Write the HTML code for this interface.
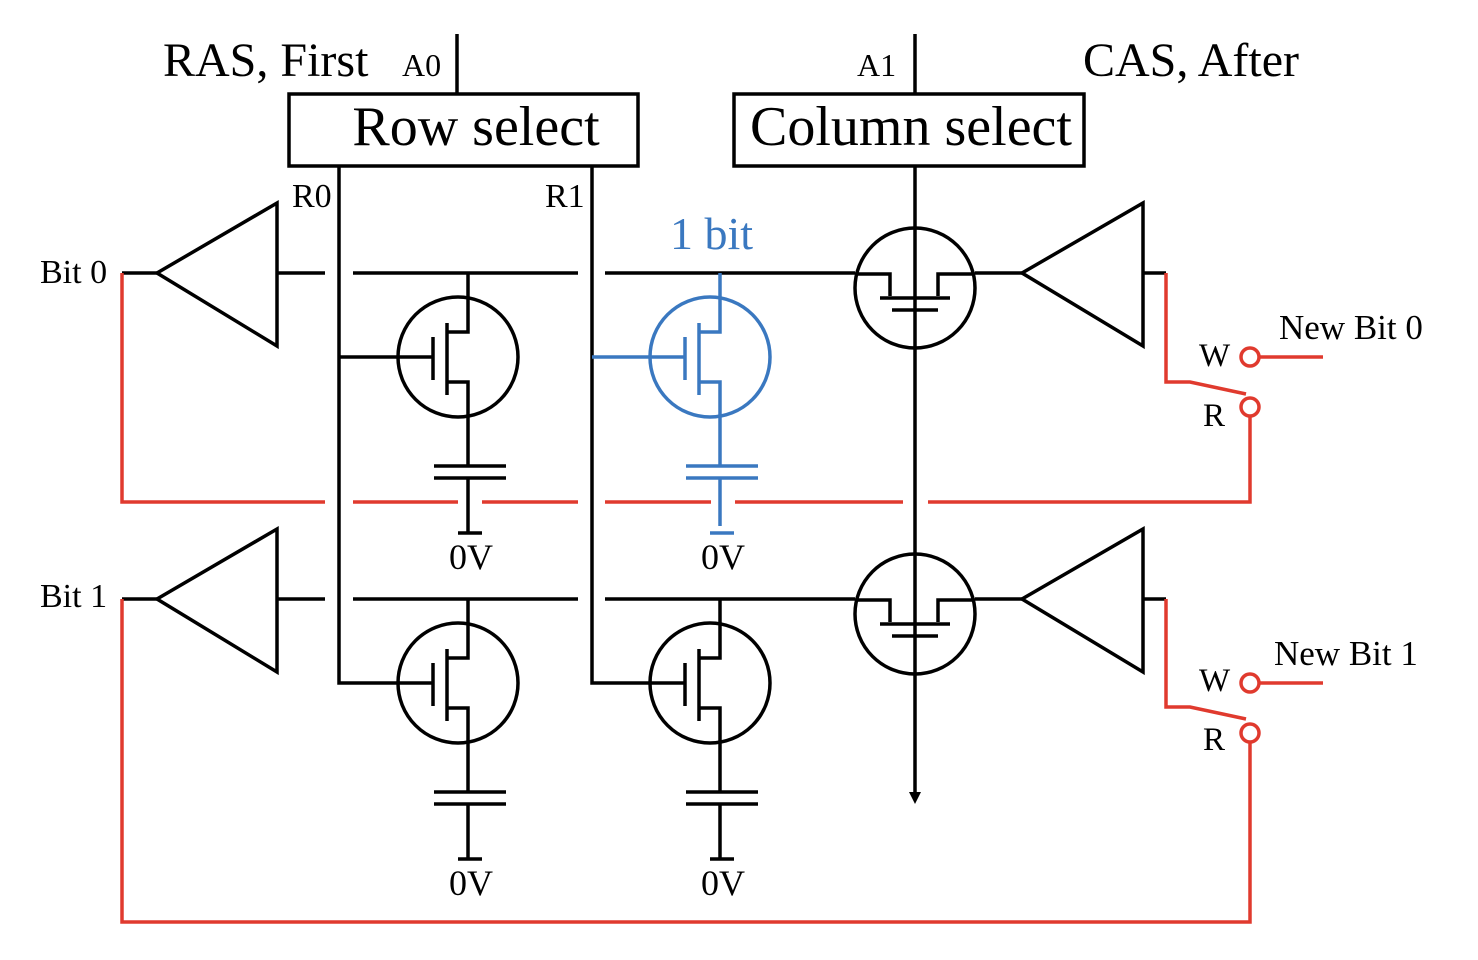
<!DOCTYPE html>
<html><head><meta charset="utf-8"><style>
html,body{margin:0;padding:0;background:#fff;}
svg{display:block;}
text{font-family:"Liberation Serif",serif;}
</style></head><body>
<svg width="1478" height="960" viewBox="0 0 1478 960" xmlns="http://www.w3.org/2000/svg">
<defs>
<g id="tr" fill="none" stroke-width="3.5">
  <circle cx="0" cy="0" r="60"/>
  <polyline points="10,-84 10,-25 -11,-25"/>
  <line x1="-11" y1="-34" x2="-11" y2="38"/>
  <line x1="-25" y1="-20" x2="-25" y2="23"/>
  <polyline points="-11,25 10,25 10,109"/>
  <line x1="-24" y1="109" x2="48" y2="109"/>
  <line x1="-24" y1="121" x2="48" y2="121"/>
</g>
<g id="ct" fill="none" stroke="#000" stroke-width="3.5">
  <circle cx="0" cy="0" r="60"/>
  <polyline points="-60,-14 -25,-14 -25,8"/>
  <polyline points="60,-14 23,-14 23,8"/>
  <line x1="-35" y1="10" x2="35" y2="10"/>
  <line x1="-23" y1="22" x2="23" y2="22"/>
</g>
</defs>
<g stroke="#000" stroke-width="3.5" fill="none">
  <rect x="289" y="94" width="349" height="72"/>
  <rect x="734" y="94" width="350" height="72"/>
  <line x1="457" y1="34" x2="457" y2="94"/>
  <line x1="915" y1="34" x2="915" y2="94"/>
  <polyline points="339,166 339,683 433,683"/>
  <line x1="339" y1="357" x2="433" y2="357"/>
  <polyline points="592,166 592,683 685,683"/>
  <line x1="915" y1="166" x2="915" y2="795"/>
  <line x1="122" y1="273" x2="157" y2="273"/>
  <polygon points="157,273 277,203 277,346"/>
  <line x1="277" y1="273" x2="325" y2="273"/>
  <line x1="353" y1="273" x2="578" y2="273"/>
  <line x1="605" y1="273" x2="855" y2="273"/>
  <line x1="975" y1="273" x2="1022" y2="273"/>
  <polygon points="1022,273 1143,203 1143,346"/>
  <line x1="1143" y1="273" x2="1166" y2="273"/>
  <line x1="122" y1="599" x2="157" y2="599"/>
  <polygon points="157,599 277,529 277,672"/>
  <line x1="277" y1="599" x2="325" y2="599"/>
  <line x1="353" y1="599" x2="578" y2="599"/>
  <line x1="605" y1="599" x2="855" y2="599"/>
  <line x1="975" y1="599" x2="1022" y2="599"/>
  <polygon points="1022,599 1143,529 1143,672"/>
  <line x1="1143" y1="599" x2="1166" y2="599"/>
</g>
<polygon points="909,792 921,792 915,804" fill="#000"/>
<use href="#ct" x="915" y="288"/>
<use href="#ct" x="915" y="614"/>
<g stroke="#000"><use href="#tr" x="458" y="357"/><use href="#tr" x="458" y="683"/><use href="#tr" x="710" y="683"/></g>
<g stroke="#3a78c0"><use href="#tr" x="710" y="357"/></g>
<g stroke-width="3.5" fill="none">
  <line x1="592" y1="357" x2="685" y2="357" stroke="#3a78c0"/>
  <g stroke="#000">
    <line x1="468" y1="478" x2="468" y2="533"/><line x1="458" y1="533" x2="482" y2="533"/>
    <line x1="468" y1="804" x2="468" y2="859"/><line x1="458" y1="859" x2="482" y2="859"/>
    <line x1="720" y1="804" x2="720" y2="859"/><line x1="710" y1="859" x2="734" y2="859"/>
  </g>
  <g stroke="#3a78c0">
    <line x1="720" y1="478" x2="720" y2="526"/><line x1="710" y1="533" x2="734" y2="533"/>
  </g>
  <g stroke="#e03a2e">
    <polyline points="122,273 122,502 325,502"/>
    <line x1="353" y1="502" x2="458" y2="502"/>
    <line x1="482" y1="502" x2="578" y2="502"/>
    <line x1="605" y1="502" x2="711" y2="502"/>
    <line x1="735" y1="502" x2="903" y2="502"/>
    <polyline points="928,502 1250,502 1250,416"/>
    <circle cx="1250" cy="407" r="9"/>
    <circle cx="1250" cy="357" r="9"/>
    <line x1="1259" y1="357" x2="1323" y2="357"/>
    <polyline points="1166,273 1166,382 1190,382 1246,394"/>
    <polyline points="122,599 122,922 1250,922 1250,742"/>
    <circle cx="1250" cy="733" r="9"/>
    <circle cx="1250" cy="683" r="9"/>
    <line x1="1259" y1="683" x2="1323" y2="683"/>
    <polyline points="1166,599 1166,707 1190,707 1246,719"/>
  </g>
</g>
<g fill="#000">
  <text x="163" y="76" font-size="48">RAS, First</text>
  <text x="402" y="76" font-size="32">A0</text>
  <text x="476" y="145" font-size="56" text-anchor="middle">Row select</text>
  <text x="911" y="145" font-size="56" text-anchor="middle">Column select</text>
  <text x="857" y="76" font-size="32">A1</text>
  <text x="1083" y="76" font-size="48">CAS, After</text>
  <text x="292" y="207" font-size="34">R0</text>
  <text x="545" y="207" font-size="34">R1</text>
  <text x="40" y="283" font-size="34">Bit 0</text>
  <text x="40" y="607" font-size="34">Bit 1</text>
  <text x="1279" y="339" font-size="35">New Bit 0</text>
  <text x="1274" y="665" font-size="35">New Bit 1</text>
  <text x="1199" y="366" font-size="33">W</text>
  <text x="1203" y="426" font-size="33">R</text>
  <text x="1199" y="691" font-size="33">W</text>
  <text x="1203" y="750" font-size="33">R</text>
  <text x="471" y="569" font-size="36" text-anchor="middle">0V</text>
  <text x="723" y="569" font-size="36" text-anchor="middle">0V</text>
  <text x="471" y="895" font-size="36" text-anchor="middle">0V</text>
  <text x="723" y="895" font-size="36" text-anchor="middle">0V</text>
  <text x="670" y="249" font-size="46" fill="#3a78c0">1 bit</text>
</g>
</svg>
</body></html>
